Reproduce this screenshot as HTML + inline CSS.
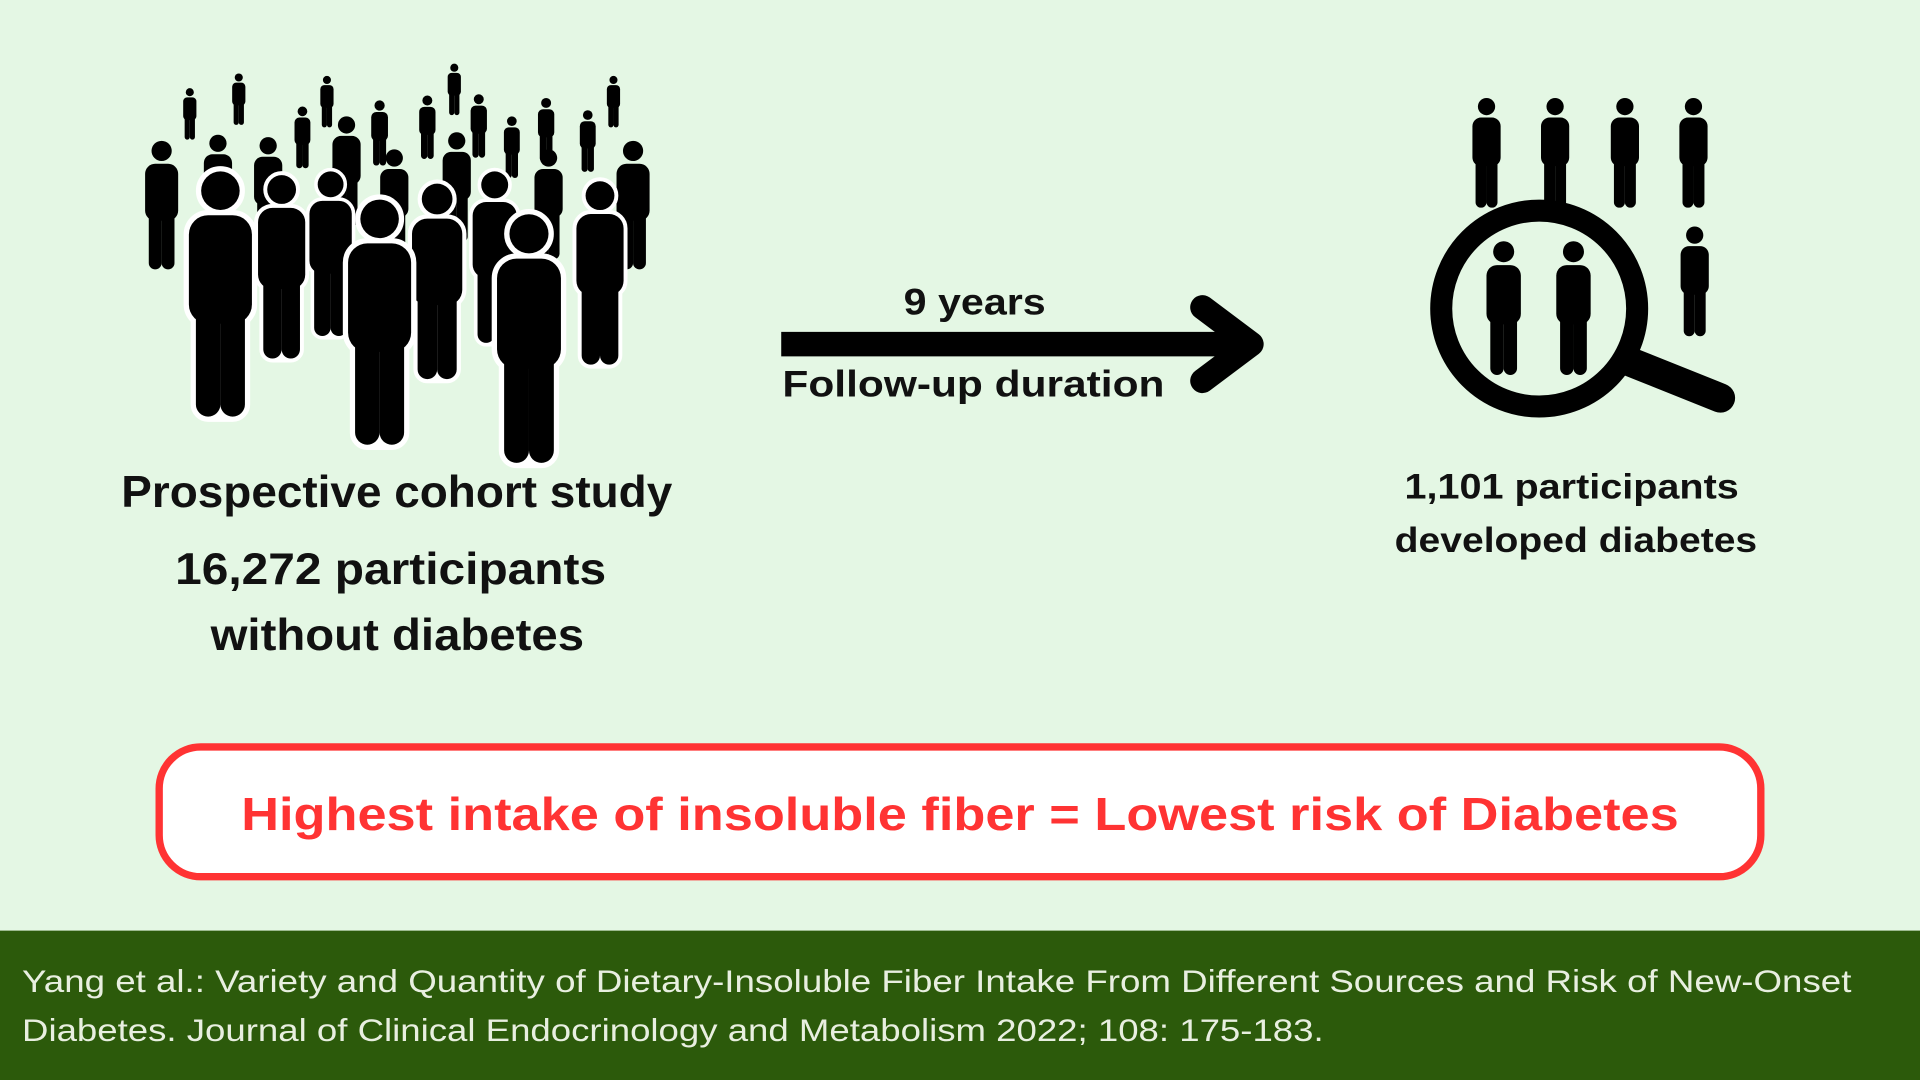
<!DOCTYPE html>
<html><head><meta charset="utf-8"><style>
html,body{margin:0;padding:0;background:#e4f7e4;}
svg{display:block;}
text{font-family:"Liberation Sans",sans-serif;}
</style></head><body>
<svg width="1920" height="1080" viewBox="0 0 1568 882" xmlns="http://www.w3.org/2000/svg">
<defs>
<g id="p">
<circle cx="0" cy="11" r="11"/>
<rect x="-18" y="25" width="36" height="62" rx="11"/>
<rect x="-14" y="60" width="14" height="80" rx="7"/>
<rect x="0" y="60" width="14" height="80" rx="7"/>
</g>
<g id="po">
<g fill="#fff" stroke="#fff" stroke-width="6" stroke-linejoin="round">
<circle cx="0" cy="11" r="11"/>
<rect x="-18" y="25" width="36" height="62" rx="11"/>
<rect x="-14" y="60" width="28" height="80" rx="7"/>
</g>
<use href="#p"/>
</g>
</defs>
<rect width="1568" height="882" fill="#e4f7e4"/>
<g fill="#000">
<use href="#p" transform="translate(155,72) scale(0.3)"/>
<use href="#p" transform="translate(195,60) scale(0.3)"/>
<use href="#p" transform="translate(267,62) scale(0.3)"/>
<use href="#p" transform="translate(371,52) scale(0.3)"/>
<use href="#p" transform="translate(501,62) scale(0.3)"/>
<use href="#p" transform="translate(247,87) scale(0.36)"/>
<use href="#p" transform="translate(310,82) scale(0.38)"/>
<use href="#p" transform="translate(349,78) scale(0.37)"/>
<use href="#p" transform="translate(391,77) scale(0.37)"/>
<use href="#p" transform="translate(446,80) scale(0.37)"/>
<use href="#p" transform="translate(418,95) scale(0.36)"/>
<use href="#p" transform="translate(480,90) scale(0.36)"/>
<use href="#p" transform="translate(132,115) scale(0.75)"/>
<use href="#p" transform="translate(178,110) scale(0.64)"/>
<use href="#p" transform="translate(219,112) scale(0.64)"/>
<use href="#p" transform="translate(283,95) scale(0.64)"/>
<use href="#p" transform="translate(322,122) scale(0.64)"/>
<use href="#p" transform="translate(373,108) scale(0.64)"/>
<use href="#p" transform="translate(448,122) scale(0.64)"/>
<use href="#p" transform="translate(517,115) scale(0.75)"/>
<use href="#po" transform="translate(230,143) scale(1.07)"/>
<use href="#po" transform="translate(270,140) scale(0.96)"/>
<use href="#po" transform="translate(357,150) scale(1.14)"/>
<use href="#po" transform="translate(404,140) scale(1.0)"/>
<use href="#po" transform="translate(490,148) scale(1.07)"/>
<use href="#po" transform="translate(180,140) scale(1.43)"/>
<use href="#po" transform="translate(310,163) scale(1.43)"/>
<use href="#po" transform="translate(432,175) scale(1.45)"/>
<use href="#p" transform="translate(1214,80) scale(0.64)"/>
<use href="#p" transform="translate(1270,80) scale(0.64)"/>
<use href="#p" transform="translate(1327,80) scale(0.64)"/>
<use href="#p" transform="translate(1383,80) scale(0.64)"/>
<use href="#p" transform="translate(1384,185) scale(0.64)"/>
<use href="#p" transform="translate(1228,197) scale(0.78)"/>
<use href="#p" transform="translate(1285,197) scale(0.78)"/>
</g>
<circle cx="1257" cy="252" r="80" fill="none" stroke="#000" stroke-width="18"/>
<line x1="1330" y1="295" x2="1405" y2="325" stroke="#000" stroke-width="24" stroke-linecap="round"/>
<line x1="638" y1="281" x2="1015" y2="281" stroke="#000" stroke-width="20"/>
<polyline points="982,251 1022,281 982,311" fill="none" stroke="#000" stroke-width="20" stroke-linecap="round" stroke-linejoin="round"/>
<g font-weight="bold" fill="#111" lengthAdjust="spacingAndGlyphs">
<text x="738" y="257" font-size="30" textLength="116" lengthAdjust="spacingAndGlyphs">9 years</text>
<text x="639" y="324" font-size="30" textLength="312" lengthAdjust="spacingAndGlyphs">Follow-up duration</text>
<text x="99" y="414" font-size="36" textLength="450" lengthAdjust="spacingAndGlyphs">Prospective cohort study</text>
<text x="143" y="477" font-size="36" textLength="352" lengthAdjust="spacingAndGlyphs">16,272 participants</text>
<text x="172" y="531" font-size="36" textLength="305" lengthAdjust="spacingAndGlyphs">without diabetes</text>
<text x="1147" y="407" font-size="29" textLength="273" lengthAdjust="spacingAndGlyphs">1,101 participants</text>
<text x="1139" y="451" font-size="29" textLength="296" lengthAdjust="spacingAndGlyphs">developed diabetes</text>
</g>
<rect x="130" y="610" width="1308" height="106" rx="34" fill="#fff" stroke="#ff3333" stroke-width="6"/>
<text x="197" y="678" font-size="38" font-weight="bold" fill="#ff3333" textLength="1174" lengthAdjust="spacingAndGlyphs">Highest intake of insoluble fiber = Lowest risk of Diabetes</text>
<rect x="0" y="760" width="1568" height="122" fill="#2c5a0b"/>
<text x="18" y="810" font-size="26" fill="#e8efe0" textLength="1494" lengthAdjust="spacingAndGlyphs">Yang et al.:  Variety and Quantity of Dietary-Insoluble Fiber Intake From Different Sources and Risk of New-Onset</text>
<text x="18" y="850" font-size="26" fill="#e8efe0" textLength="1063" lengthAdjust="spacingAndGlyphs">Diabetes. Journal of Clinical Endocrinology and Metabolism 2022; 108: 175-183.</text>
</svg>
</body></html>
